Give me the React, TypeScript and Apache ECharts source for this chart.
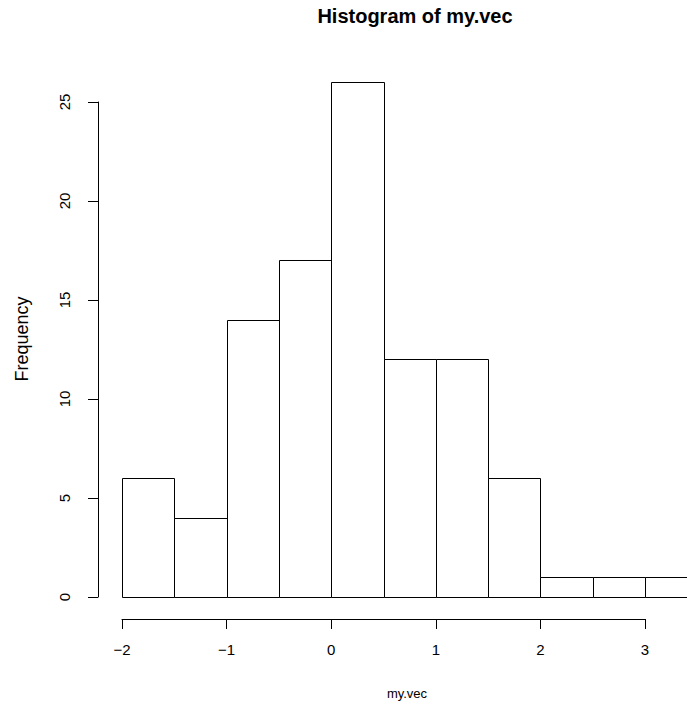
import React, { useEffect, useRef } from "react";
import * as echarts from "echarts";

const binStarts = [-2, -1.5, -1, -0.5, 0, 0.5, 1, 1.5, 2, 2.5, 3];
const binWidth = 0.5;
const counts = [6, 4, 14, 17, 26, 12, 12, 6, 1, 1, 1];
const xTicks = [-2, -1, 0, 1, 2, 3];
const yTicks = [0, 5, 10, 15, 20, 25];
const titleText = "Histogram of my.vec";
const xName = "my.vec";
const yName = "Frequency";

const FONT = "'Liberation Sans', Arial, Helvetica, sans-serif";

export default function App() {
  const ref = useRef<HTMLDivElement>(null);
  useEffect(() => {
    if (!ref.current) return;
    const chart = echarts.init(ref.current, undefined, { renderer: "svg" });
    const data = binStarts.map((s, i) => [s, s + binWidth, counts[i]]);
    const option: any = {
      animation: false,
      backgroundColor: "#ffffff",
      title: [
        {
          text: titleText,
          left: 410,
          top: 1,
          textAlign: "center",
          textStyle: { fontFamily: FONT, fontSize: 20, fontWeight: "bold", color: "#000" },
        },
        {
          text: xName,
          left: 402,
          top: 682,
          textAlign: "center",
          textStyle: { fontFamily: FONT, fontSize: 13, fontWeight: "normal", color: "#000" },
        },
      ],
      graphic: [
        {
          type: "text",
          x: 22,
          y: 339,
          rotation: Math.PI / 2,
          style: {
            text: yName,
            fontFamily: FONT,
            fontSize: 18,
            fill: "#000",
            textAlign: "center",
            textVerticalAlign: "middle",
          },
        },
      ],
      grid: { left: 122, top: 102, width: 523, height: 495, containLabel: false },
      xAxis: {
        type: "value",
        min: xTicks[0],
        max: xTicks[xTicks.length - 1],
        interval: 1,
        offset: 22,
        axisLine: { show: true, onZero: false, lineStyle: { color: "#000", width: 1 } },
        axisTick: { show: true, length: 10, lineStyle: { color: "#000", width: 1 } },
        splitLine: { show: false },
        axisLabel: {
          margin: 23,
          fontFamily: FONT,
          fontSize: 15,
          color: "#000",
          formatter: (v: number) => String(v).replace("-", "\u2212"),
        },
      },
      yAxis: {
        type: "value",
        min: yTicks[0],
        max: yTicks[yTicks.length - 1],
        interval: 5,
        offset: 24,
        axisLine: { show: true, onZero: false, lineStyle: { color: "#000", width: 1 } },
        axisTick: { show: true, length: 10, lineStyle: { color: "#000", width: 1 } },
        splitLine: { show: false },
        axisLabel: {
          rotate: 90,
          margin: 26,
          fontFamily: FONT,
          fontSize: 15,
          color: "#000",
        },
      },
      series: [
        {
          type: "custom",
          clip: false,
          data,
          encode: { x: [0, 1], y: 2 },
          renderItem: (params: any, api: any) => {
            const s = api.value(0);
            const e = api.value(1);
            const c = api.value(2);
            const p0 = api.coord([s, c]);
            const p1 = api.coord([e, 0]);
            const x0 = Math.round(p0[0]) + 0.5;
            const x1 = Math.round(p1[0]) + 0.5;
            const y0 = Math.round(p0[1]) + 0.5;
            const y1 = Math.round(p1[1]) + 0.5;
            return {
              type: "rect",
              shape: { x: x0, y: y0, width: x1 - x0, height: y1 - y0 },
              style: { fill: "#ffffff", stroke: "#000000", lineWidth: 1 },
            };
          },
        },
      ],
    };
    chart.setOption(option);
    return () => chart.dispose();
  }, []);
  return (
    <div
      ref={ref}
      style={{ position: "fixed", left: 0, top: 0, width: 687, height: 704, background: "#fff" }}
    />
  );
}
